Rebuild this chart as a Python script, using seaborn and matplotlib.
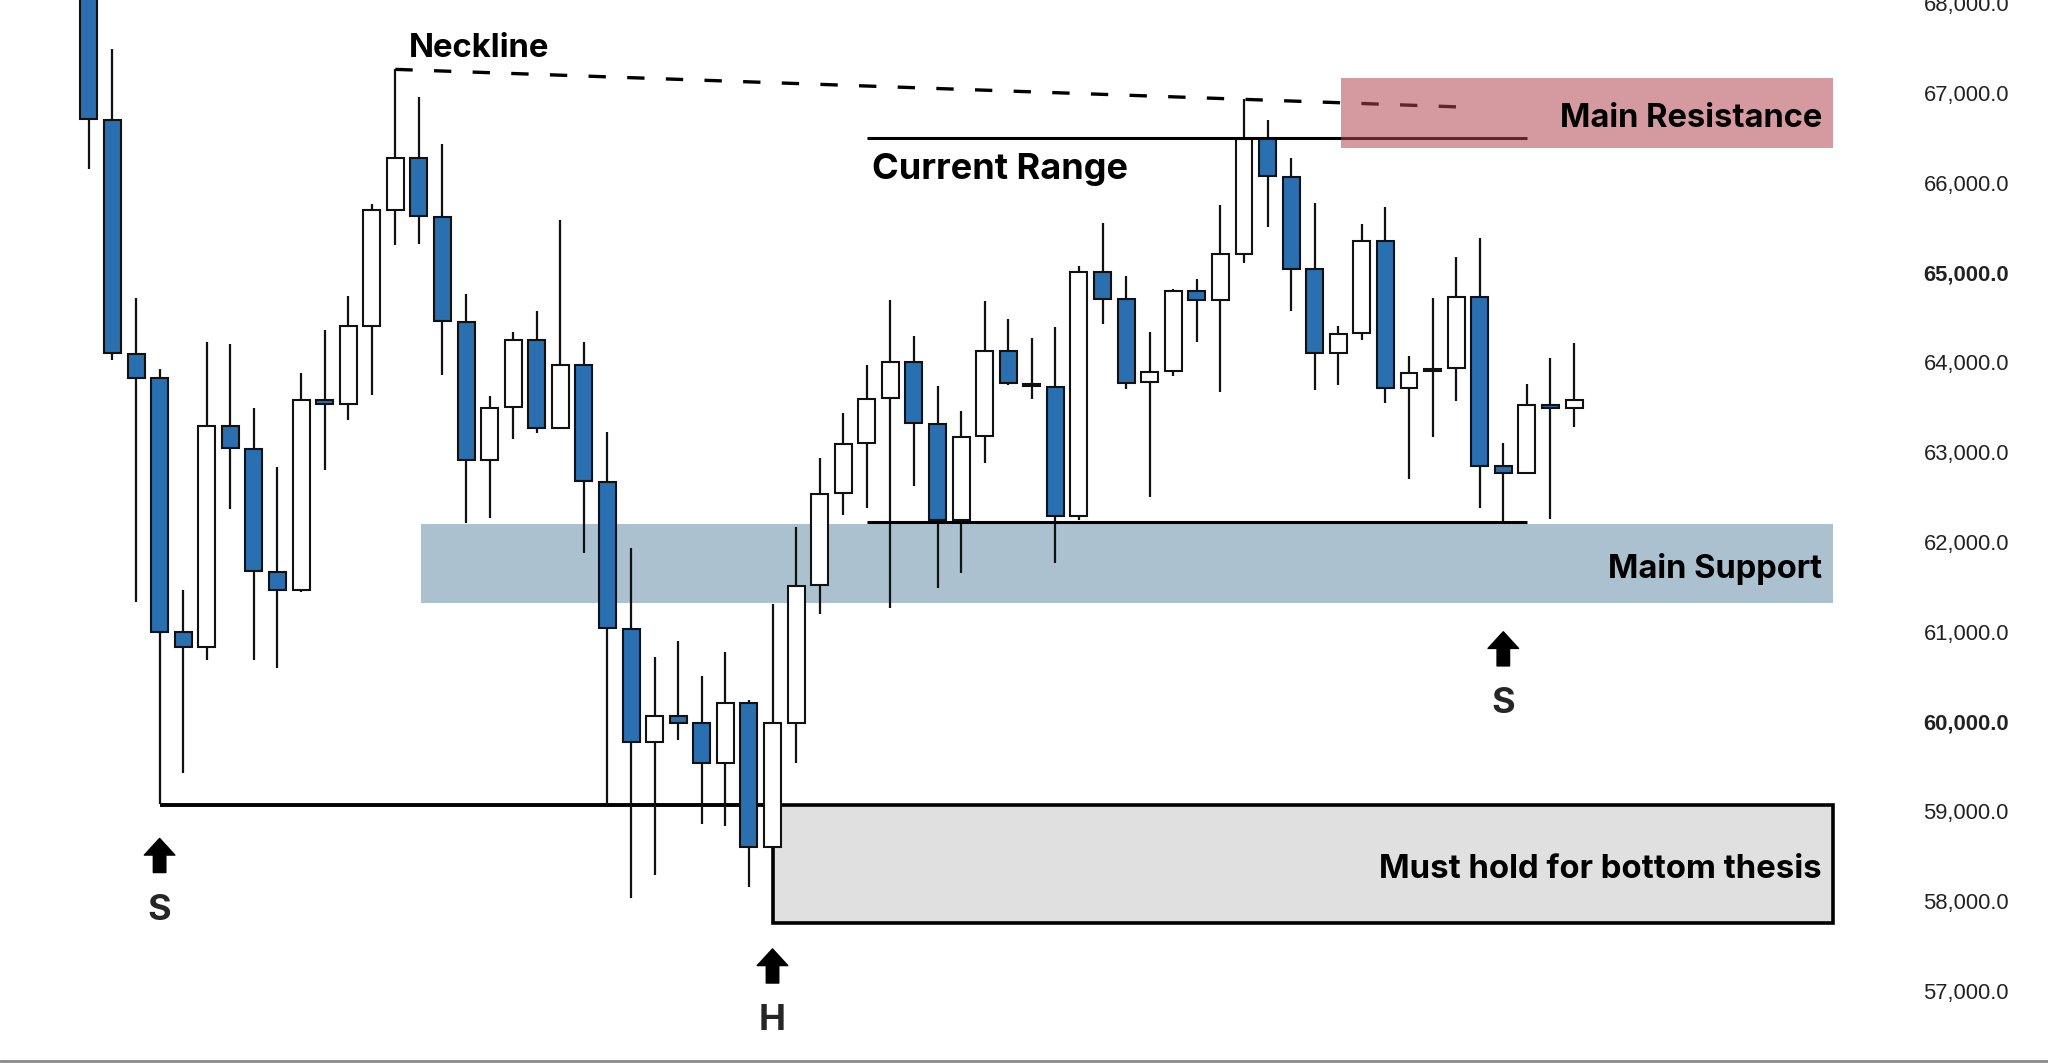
import numpy as np
import matplotlib
matplotlib.use('Agg')
import matplotlib.pyplot as plt
import seaborn as sns
from matplotlib.patches import Rectangle
from matplotlib.lines import Line2D

# OHLC values, one per candle (left to right)
opens = [68400, 66700, 64090, 63820, 61000, 60830, 63290, 63030, 61670, 61460,
         63580, 63530, 64400, 65700, 66270, 65620, 64450, 62910, 63500, 64250,
         63270, 63970, 62670, 61030, 59770, 60060, 59990, 59540, 60210, 58600,
         59990, 61520, 62540, 63100, 63600, 64000, 63310, 62240, 63180, 64120,
         63760, 63720, 62290, 65000, 64700, 63780, 63900, 64790, 64690, 65210,
         66490, 66060, 65040, 64100, 64320, 65350, 63710, 63900, 63940, 64730,
         62840, 62770, 63520, 63490]
highs = [68700, 67490, 64710, 63930, 61470, 64230, 64200, 63490, 62830, 63880,
         64360, 64740, 65760, 67260, 66950, 66430, 64760, 63620, 64340, 64570,
         65580, 64230, 63220, 61930, 60720, 60900, 60510, 60770, 60240, 61310,
         62170, 62930, 63440, 63970, 64690, 64290, 63730, 63460, 64680, 64480,
         64270, 64390, 65070, 65550, 64960, 64340, 64820, 64930, 65750, 66930,
         66700, 66270, 65770, 64400, 65540, 65730, 64070, 64710, 65170, 65380,
         63100, 63760, 64050, 64210]
lows = [66150, 64030, 61330, 59080, 59430, 60690, 62370, 60690, 60600, 61440,
        62800, 63360, 63630, 65310, 65320, 63860, 62210, 62270, 63150, 63210,
        63260, 61880, 59070, 58040, 58290, 59800, 58860, 58840, 58160, 58590,
        59540, 61200, 62300, 62380, 61270, 62620, 61490, 61650, 62880, 63750,
        63590, 61770, 62240, 64430, 63700, 62500, 63850, 64220, 63670, 65100,
        65500, 64570, 63690, 63750, 64250, 63550, 62700, 63170, 63570, 62380,
        62220, 62760, 62250, 63280]
closes = [66710, 64100, 63830, 61000, 60830, 63290, 63040, 61680, 61460, 63580,
          63530, 64400, 65690, 66270, 65630, 64460, 62910, 63490, 64250, 63270,
          63970, 62680, 61040, 59770, 60060, 59990, 59540, 60210, 58600, 59990,
          61510, 62530, 63090, 63590, 64000, 63320, 62240, 63170, 64120, 63770,
          63730, 62290, 65000, 64700, 63770, 63890, 64790, 64690, 65210, 66490,
          66070, 65040, 64100, 64310, 65350, 63710, 63880, 63930, 64730, 62850,
          62770, 63520, 63490, 63580]

# annotation levels (price) and spans (candle index)
neckline_x = [13, 58.3]
neckline_y = [67260, 66840]
range_high = 66500
range_low = 62220
range_span = (33, 61)
resistance_zone = (66380, 67160)
resistance_span = (53.1, 74)
support_zone = (61320, 62200)
support_span = (14.1, 74)
hold_level = 59070
hold_bottom = 57760
hold_span = (29, 74)
s_line_start = 3

# up arrows under the pattern lows: candle index, arrow tip, label
arrow_x = [3, 29, 60]
arrow_tip = [58700, 57470, 61000]
arrow_label = ['S', 'H', 'S']

yticks = list(range(57000, 69000, 1000))
bold_ticks = [60000, 65000]

blue = '#2a6fb0'
edge = '#111111'

sns.set_theme(style='white')
plt.rcParams['font.family'] = ['Inter', 'DejaVu Sans']

fig = plt.figure(figsize=(20.48, 10.63), dpi=100)
ax = fig.add_axes([0, 0, 0.9311, 1])

x = np.arange(len(opens))
o = np.array(opens)
c = np.array(closes)
bull = c >= o
colors = np.where(bull, 'white', blue)

# zones behind the candles
ax.add_patch(Rectangle((support_span[0], support_zone[0]), support_span[1] - support_span[0],
                       support_zone[1] - support_zone[0], facecolor='#acc1cf', edgecolor='none', zorder=1))
ax.add_patch(Rectangle((hold_span[0], hold_bottom), hold_span[1] - hold_span[0],
                       hold_level - hold_bottom, facecolor='#e0e0e0', edgecolor='black',
                       linewidth=2.6, zorder=1.5))
ax.hlines(hold_level, s_line_start, hold_span[0], color='black', linewidth=2.8, zorder=1.6)

# candles
ax.vlines(x, lows, highs, color=edge, linewidth=1.6, zorder=2)
body = np.where(np.abs(c - o) < 25, 25, c - o)
ax.bar(x, body, bottom=o, width=0.72, color=colors, edgecolor=edge, linewidth=1.5, zorder=3)

# range lines and neckline
ax.hlines([range_high, range_low], range_span[0], range_span[1], color='black', linewidth=2.2, zorder=4)
ax.plot(neckline_x, neckline_y, color='black', linewidth=2.4, linestyle=(0, (5.2, 6.4)), zorder=4)

# resistance zone drawn over the lines
ax.add_patch(Rectangle((resistance_span[0], resistance_zone[0]), resistance_span[1] - resistance_span[0],
                       resistance_zone[1] - resistance_zone[0], facecolor='#b2444e', alpha=0.54,
                       edgecolor='none', zorder=5))

txt = dict(fontweight='bold', color='black', zorder=6)
ax.text(13.57, 67490, 'Neckline', ha='left', va='center', fontsize=23.7, **txt)
ax.text(33.24, 66140, 'Current Range', ha='left', va='center', fontsize=26, **txt)
ax.text(73.52, 66710, 'Main Resistance', ha='right', va='center', fontsize=23.5, **txt)
ax.text(73.52, 61700, 'Main Support', ha='right', va='center', fontsize=23.5, **txt)
ax.text(73.52, 58350, 'Must hold for bottom thesis', ha='right', va='center', fontsize=23.7, **txt)

for xi, tip, lab in zip(arrow_x, arrow_tip, arrow_label):
    ax.annotate('', xy=(xi, tip), xytext=(xi, tip - 380),
                arrowprops=dict(arrowstyle='simple,head_length=0.6,head_width=1.1,tail_width=0.45',
                                color='black', mutation_scale=20, shrinkA=0, shrinkB=0), zorder=6)
    ax.text(xi, tip - 800, lab, ha='center', va='center', fontweight='bold', fontsize=26, zorder=6)

ax.set_xlim(-3.77, 77.12)
ax.set_ylim(56200, 68032)
ax.set_xticks([])
ax.yaxis.tick_right()
ax.set_yticks(yticks)
ax.set_yticklabels([f'{v:,.1f}' for v in yticks])
ax.tick_params(axis='y', length=0, pad=12, labelsize=15.8, labelcolor='#222222')
for lab, v in zip(ax.get_yticklabels(), yticks):
    lab.set_fontfamily('Liberation Sans')
    if v in bold_ticks:
        lab.set_fontweight('bold')
sns.despine(ax=ax, left=True, bottom=True, right=True, top=True)
ax.grid(False)

fig.add_artist(Line2D([0, 1], [0.002, 0.002], transform=fig.transFigure, color='#8a8a8a', linewidth=2))

fig.savefig('out.png', dpi=100, facecolor='white')
